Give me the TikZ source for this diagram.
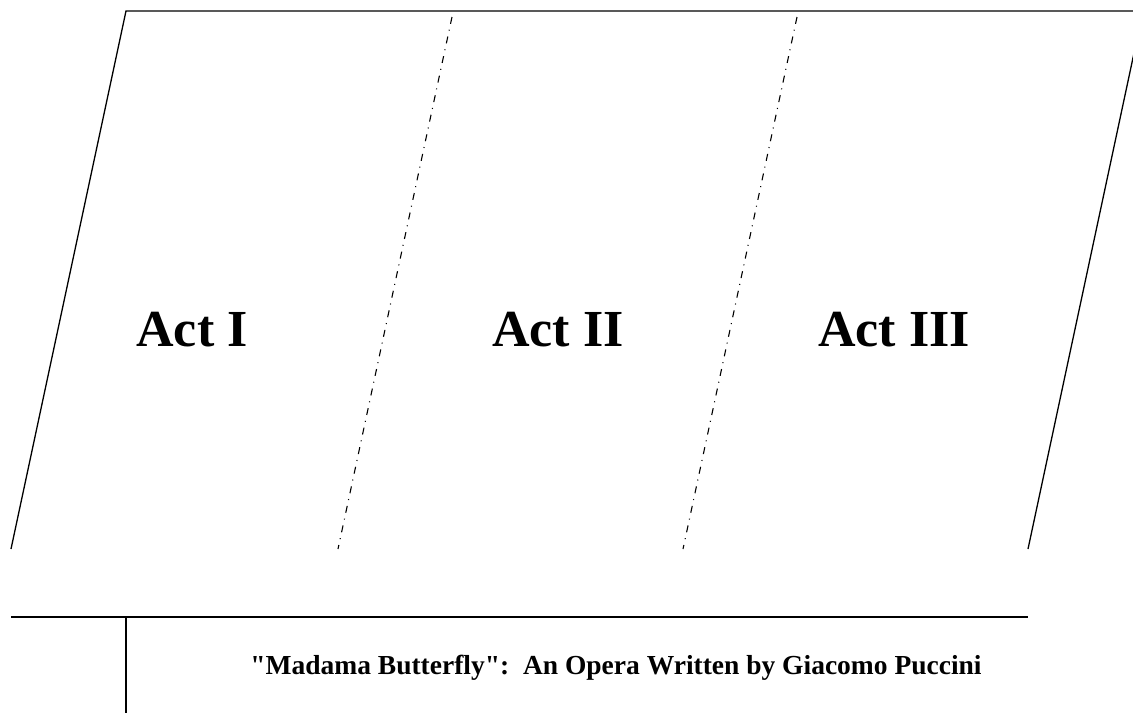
\documentclass[tikz,border=0pt]{standalone}
\usepackage{fontspec}
\setmainfont{Liberation Serif}
\usetikzlibrary{positioning,calc}

\begin{document}
\begin{tikzpicture}[
  x=1pt, y=-1pt,
  act/.style={font=\bfseries\fontsize{52}{60}\selectfont, inner sep=0pt},
  caption/.style={font=\bfseries\fontsize{27.5}{32}\selectfont, inner sep=0pt},
  rim/.style={draw=black, line width=1.3pt},
  divider/.style={draw=black, line width=1.1pt, dash pattern=on 7pt off 6pt on 1pt off 6pt}
]
\useasboundingbox (0,0) rectangle (1133,721);
\clip (0,0) rectangle (1133,721);
% stage outline
\coordinate (tl) at (126,11);
\coordinate (tr) at (1143,11);
\coordinate (bl) at (11,549);
\coordinate (br) at (1028,549);
\draw[rim] (bl) -- (tl) -- (tr) -- (br);
% act dividers
\coordinate (d1t) at (452,17);
\coordinate (d1b) at (338,549);
\coordinate (d2t) at (797,17);
\coordinate (d2b) at (683,549);
\draw[divider] (d1t) -- (d1b);
\draw[divider] (d2t) -- (d2b);
\node[act] (a1) at (192,330) {Act I};
\node[act] (a2) at (558,330) {Act II};
\node[act] (a3) at (894,330) {Act III};
% title block
\coordinate (hl) at (11,617);
\coordinate (hr) at (1028,617);
\coordinate (vt) at (126,617);
\coordinate (vb) at (126,713);
\draw[rim] (hl) -- (hr);
\draw[rim] (vt) -- (vb);
\node[caption] (title) at (616,668) {\textquotedbl Madama Butterfly\textquotedbl:\ \ An Opera Written by Giacomo Puccini};
\end{tikzpicture}
\end{document}
